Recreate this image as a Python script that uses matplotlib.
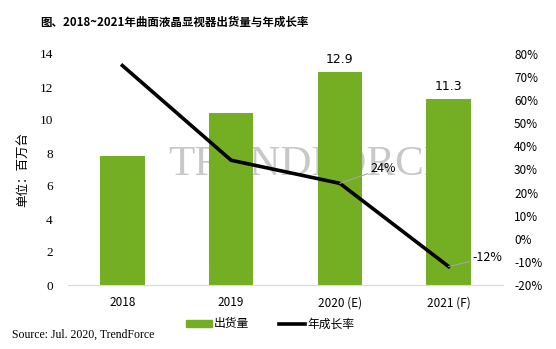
import matplotlib.pyplot as plt
from matplotlib.lines import Line2D
from matplotlib.patches import Patch

plt.rcParams['font.family'] = ['Noto Sans CJK SC', 'DejaVu Sans']

years = ["2018", "2019", "2020 (E)", "2021 (F)"]
shipments = [7.8, 10.4, 12.9, 11.3]
growth = [75, 34, 24, -12]
bar_labels = {2: "12.9", 3: "11.3"}
left_ticks = [0, 2, 4, 6, 8, 10, 12, 14]
right_ticks = [-20, -10, 0, 10, 20, 30, 40, 50, 60, 70, 80]

GREEN = "#74AE22"

fig = plt.figure(figsize=(5.56, 3.49), dpi=100)
ax = fig.add_axes([68 / 556, 64 / 349, 435 / 556, 231 / 349])
ax2 = ax.twinx()

x = list(range(len(years)))
ax.bar(x, shipments, width=0.41, color=GREEN, zorder=2)
ax.set_xlim(-0.5, 3.5)
ax.set_ylim(0, 14)
ax.set_yticks(left_ticks)
ax.set_yticklabels([str(t) for t in left_ticks], family="Liberation Serif", fontsize=9.5)
ax.set_xticks(x)
ax.set_xticklabels(years, fontsize=8.5)
ax.tick_params(length=0, pad=8)
ax.tick_params(axis="y", pad=11)
for s in ["top", "left", "right"]:
    ax.spines[s].set_visible(False)
ax.spines["bottom"].set_color("#d9d9d9")

for i, lab in bar_labels.items():
    ax.text(i, shipments[i] + 0.35, lab, ha="center", va="bottom",
            fontsize=9, family="DejaVu Sans")

ax.set_ylabel("单位：百万台", fontsize=9)
ax.yaxis.set_label_coords(-0.09, 0.5)

# watermark behind the bars
ax.text(0.555, 0.52, "TRENDFORCE", transform=ax.transAxes, ha="center", va="center",
        family="Liberation Serif", fontsize=31, color="#c8c8c8", zorder=1)

ax2.plot(x, growth, color="black", linewidth=2.6, zorder=3)
ax2.set_ylim(-20, 80)
ax2.set_yticks(right_ticks)
ax2.set_yticklabels([f"{t}%" for t in right_ticks], fontsize=8.5)
ax2.tick_params(length=0, pad=8)
for s in ax2.spines.values():
    s.set_visible(False)

ax2.annotate("24%", xy=(2, growth[2]), xytext=(2.28, 30.5), fontsize=9,
             va="center", ha="left",
             arrowprops=dict(arrowstyle="-", color="#a6a6a6", lw=0.8,
                             shrinkA=0, shrinkB=0))
ax2.annotate("-12%", xy=(3, growth[3]), xytext=(3.22, -8), fontsize=9,
             va="center", ha="left",
             arrowprops=dict(arrowstyle="-", color="#a6a6a6", lw=0.8,
                             shrinkA=0, shrinkB=0))

fig.text(40 / 556, 1 - 22 / 349, "图、2018~2021年曲面液晶显视器出货量与年成长率",
         fontsize=8.3, fontweight="bold", va="center", ha="left")

handles = [Patch(color=GREEN), Line2D([0], [0], color="black", lw=2.6)]
fig.legend(handles, ["出货量", "年成长率"], loc="center",
           bbox_to_anchor=(270 / 556, 1 - 324 / 349), ncol=2, frameon=False,
           fontsize=8.5, handlelength=2.2, handleheight=0.5, columnspacing=2.5,
           handletextpad=0.2)

fig.text(12 / 556, 1 - 335 / 349, "Source: Jul. 2020, TrendForce",
         family="Liberation Serif", fontsize=8.5, va="center", ha="left")

fig.savefig("out.png", dpi=100)
